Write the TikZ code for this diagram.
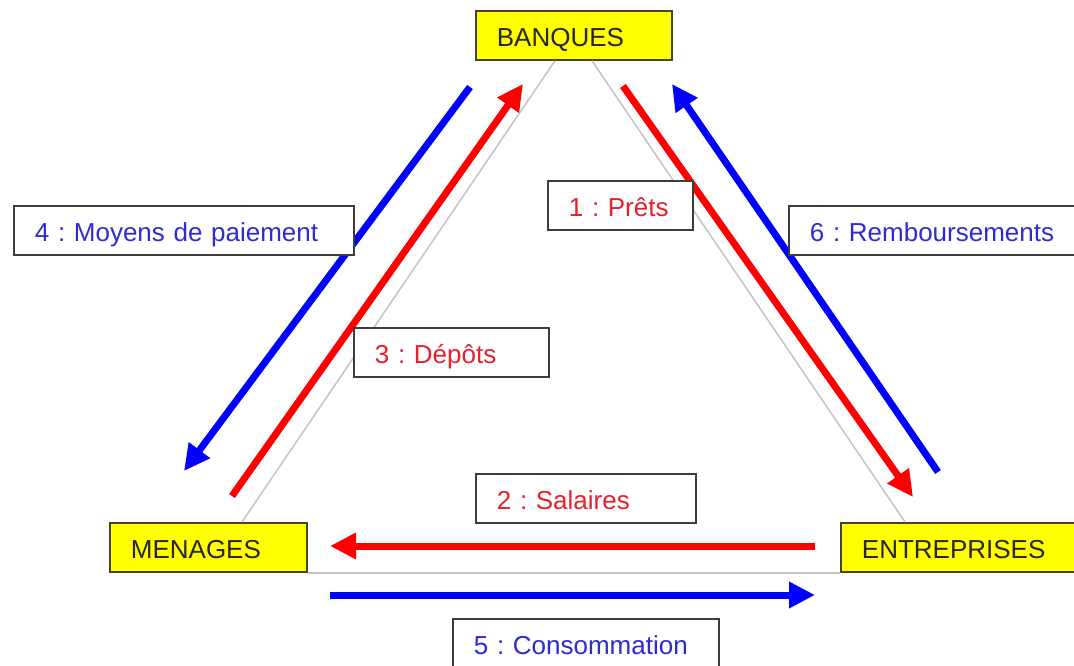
\documentclass[tikz,border=0pt]{standalone}
\usepackage{fontspec}
\setmainfont{Liberation Sans}
\usetikzlibrary{arrows.meta}
\definecolor{agentyellow}{RGB}{255,255,0}
\definecolor{agentborder}{RGB}{70,70,30}
\definecolor{labelborder}{RGB}{60,60,60}
\definecolor{flowred}{RGB}{255,0,0}
\definecolor{flowblue}{RGB}{0,0,255}
\definecolor{textred}{RGB}{232,32,44}
\definecolor{textblue}{RGB}{44,44,214}
\definecolor{sidegray}{RGB}{195,195,195}
\tikzset{
  boxbase/.style={line width=1.8pt, inner xsep=21pt, inner ysep=0pt, minimum height=49pt,
    text height=22pt, text depth=0pt, align=left, anchor=north west,
    font=\fontsize{26}{26}\selectfont},
  agent/.style={boxbase, draw=agentborder, fill=agentyellow, text=black!85},
  flowlabel/.style={boxbase, draw=labelborder, fill=white},
  flow/.style={line width=7pt, -{Triangle[length=26pt,width=25pt]}},
  side/.style={draw=sidegray, line width=1.5pt}
}
\begin{document}
\frenchspacing
\begin{tikzpicture}[x=1pt, y=-1pt]
\useasboundingbox (0,0) rectangle (1074,666);
\clip (0,0) rectangle (1074,666);
% les trois agents
\node[agent, text width=154pt] (banques) at (475,10) {BANQUES};
\node[agent, text width=155pt] (menages) at (109,522) {MENAGES};
\node[agent, text width=198pt] (entreprises) at (840,522) {ENTREPRISES};
% cotes du triangle
\draw[side] ([xshift=80pt]banques.south west) -- ([xshift=133pt]menages.north west);
\draw[side] ([xshift=117pt]banques.south west) -- ([xshift=65pt]entreprises.north west);
\draw[side] (menages.south east) -- (entreprises.south west);
% extremites des flux
\coordinate (moyens start) at (470,87);
\coordinate (moyens end) at (184,471);
\coordinate (depots start) at (232,496);
\coordinate (depots end) at (523,84);
\coordinate (prets start) at (623,86);
\coordinate (prets end) at (913,497);
\coordinate (rembours start) at (938,472);
\coordinate (rembours end) at (672,84);
\coordinate (salaires start) at (815,546);
\coordinate (salaires end) at (330,546);
\coordinate (conso start) at (330,595);
\coordinate (conso end) at (815,595);
\foreach \f/\c in {moyens/flowblue, depots/flowred, prets/flowred, rembours/flowblue, salaires/flowred, conso/flowblue}
  \draw[flow, \c] (\f\space start) -- (\f\space end);
% etiquettes
\node[flowlabel, text=textblue, text width=298pt] (moyens) at (13,205) {4 : Moyens de paiement};
\node[flowlabel, text=textred, text width=103pt] (prets) at (547,180) {1 : Prêts};
\node[flowlabel, text=textblue, text width=248pt] (rembours) at (788,205) {6 : Remboursements};
\node[flowlabel, text=textred, text width=153pt] (depots) at (353,327) {3 : Dépôts};
\node[flowlabel, text=textred, text width=178pt] (salaires) at (475,473) {2 : Salaires};
\node[flowlabel, text=textblue, text width=224pt] (conso) at (452,618) {5 : Consommation};
\end{tikzpicture}
\end{document}
